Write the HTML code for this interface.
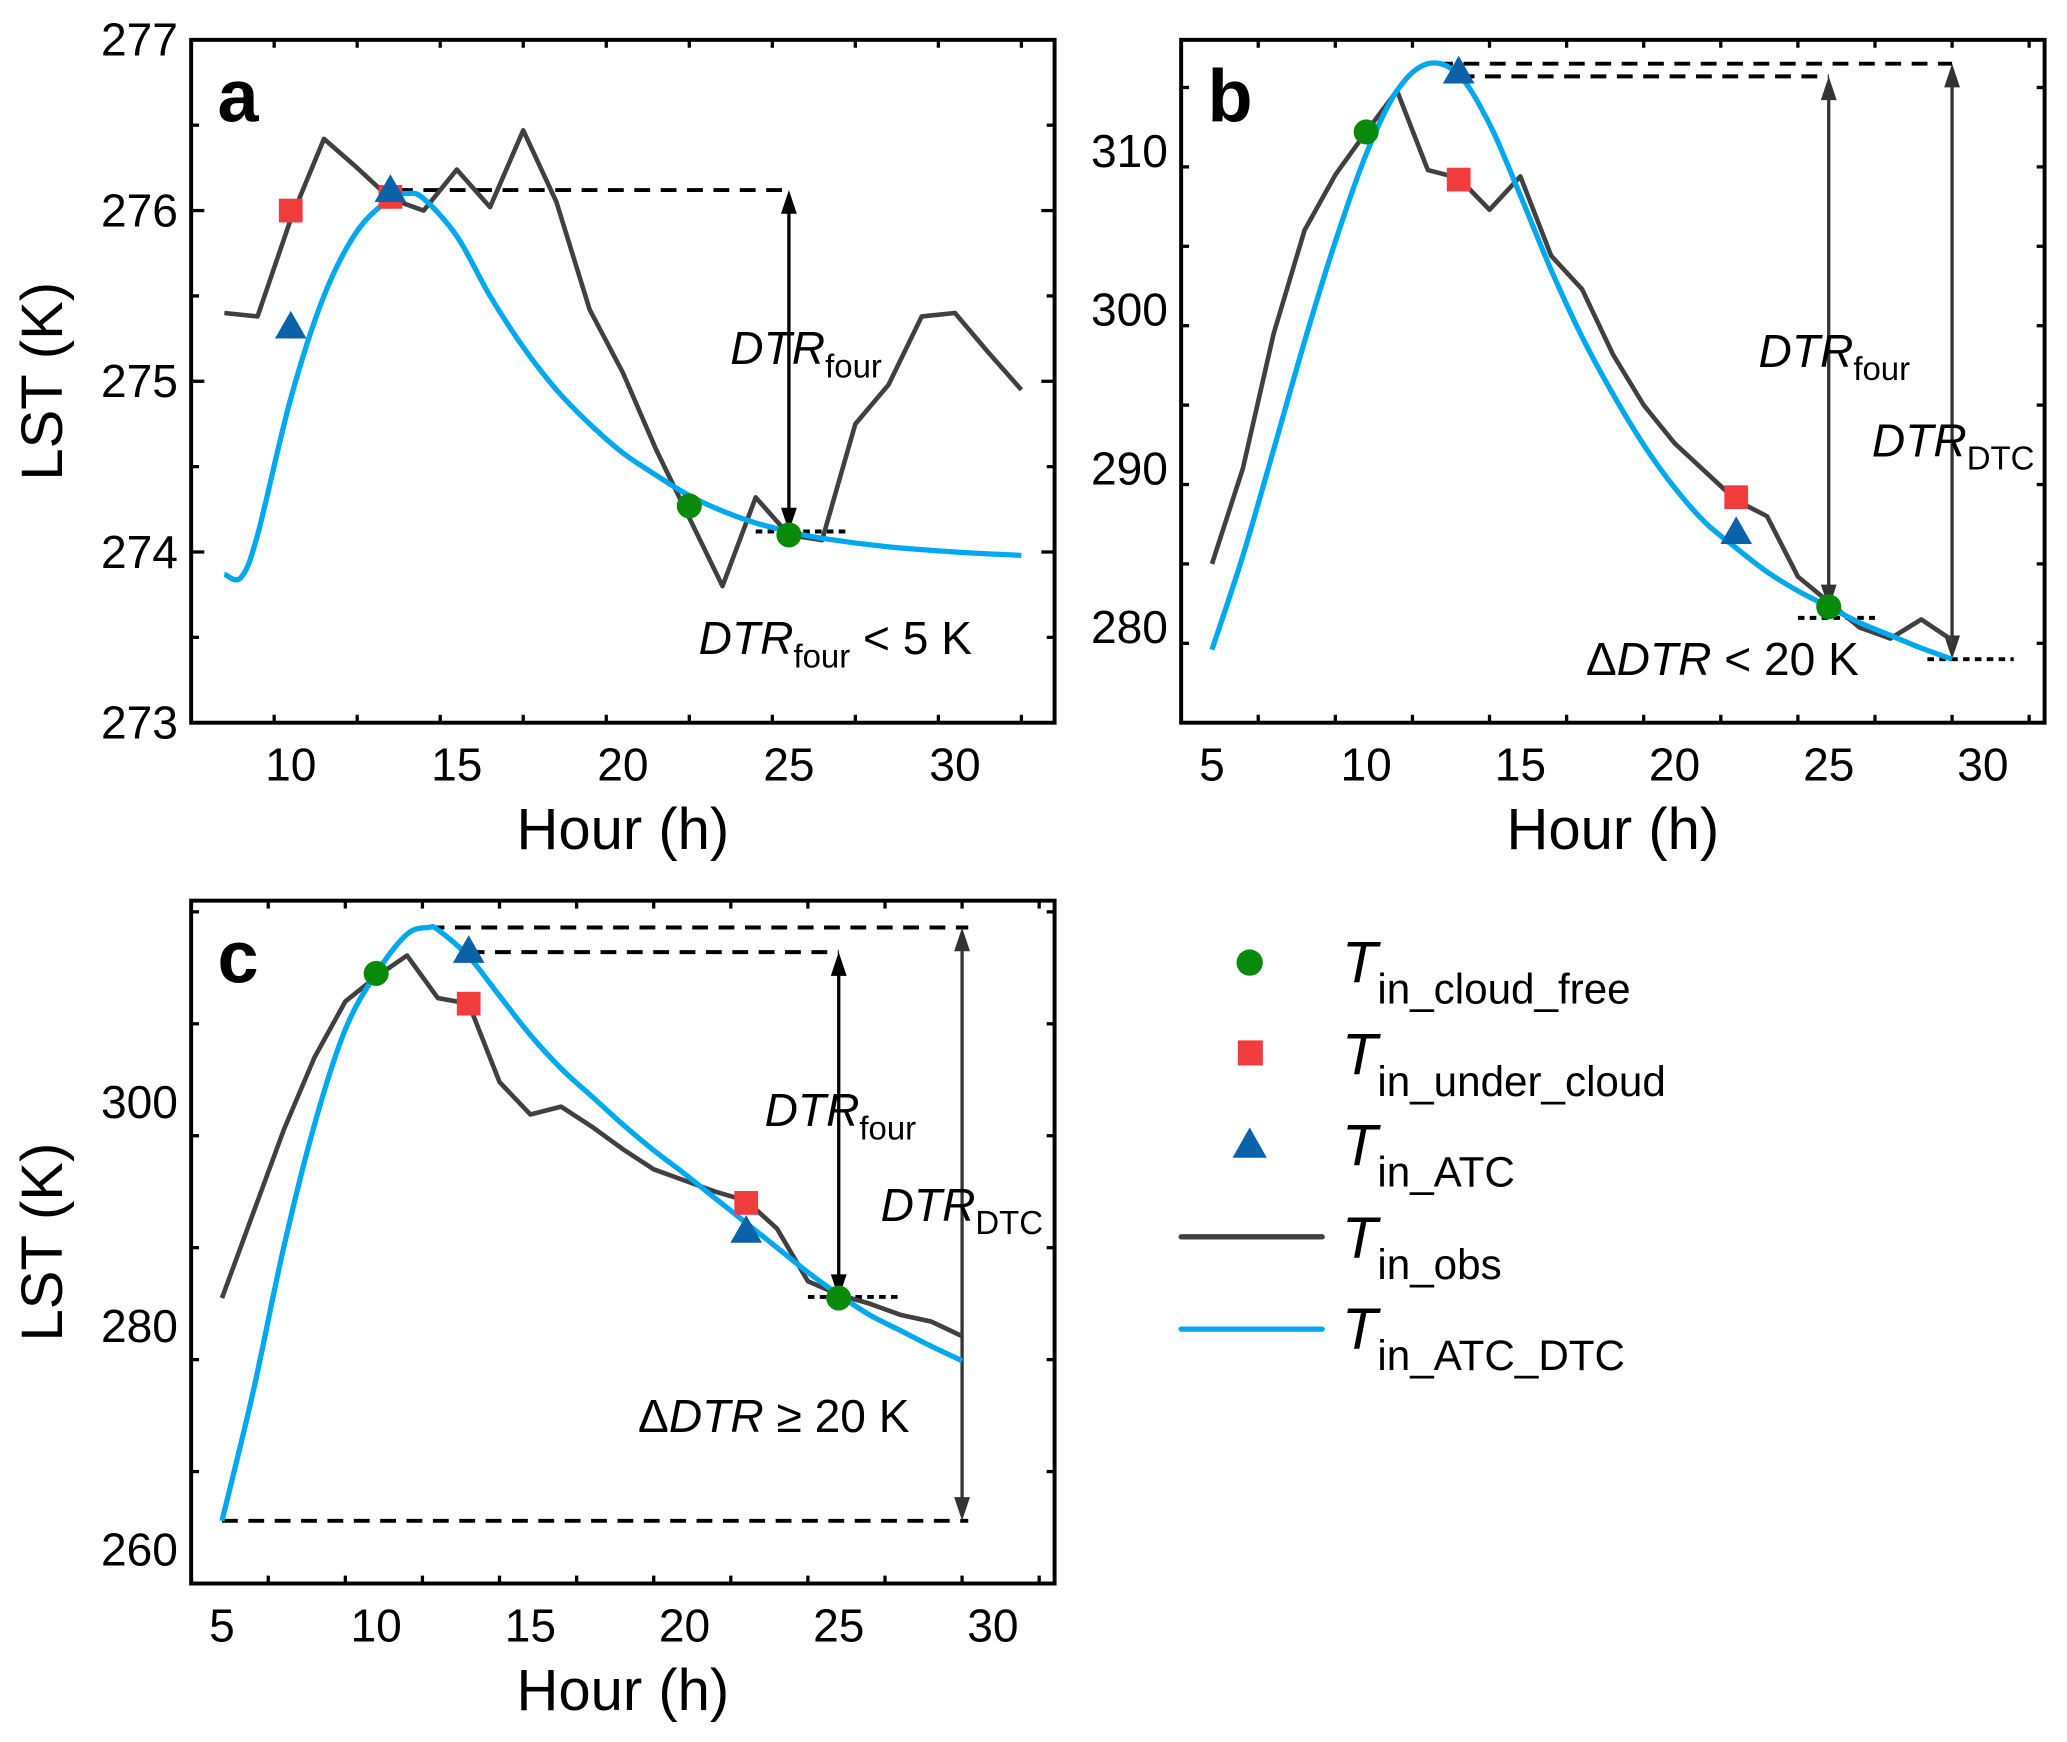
<!DOCTYPE html>
<html><head><meta charset="utf-8"><style>
html,body{margin:0;padding:0;background:#fff;}
svg{display:block;font-family:"Liberation Sans",Arial,sans-serif;}
</style></head><body>
<svg id="fig" width="2067" height="1742" viewBox="0 0 1568 1321" xmlns="http://www.w3.org/2000/svg">
<g id="legend">
 <circle cx="948" cy="730" r="10" fill="#0a8a0a"/>
 <rect x="939" y="789" width="19" height="19" fill="#f03c3c"/>
 <polygon points="948,855 961,878 935,878" fill="#0b62a8"/>
 <line x1="896" y1="938" x2="1003" y2="938" stroke="#404040" stroke-width="4" stroke-linecap="round"/>
 <line x1="896" y1="1008" x2="1003" y2="1008" stroke="#00a8f0" stroke-width="4" stroke-linecap="round"/>
 <text x="1018" y="745" font-size="44" font-style="italic">T<tspan font-style="normal" font-size="32" dy="16">in_cloud_free</tspan></text>
 <text x="1018" y="815" font-size="44" font-style="italic">T<tspan font-style="normal" font-size="32" dy="16">in_under_cloud</tspan></text>
 <text x="1018" y="884" font-size="44" font-style="italic">T<tspan font-style="normal" font-size="32" dy="16">in_ATC</tspan></text>
 <text x="1018" y="954" font-size="44" font-style="italic">T<tspan font-style="normal" font-size="32" dy="16">in_obs</tspan></text>
 <text x="1018" y="1023" font-size="44" font-style="italic">T<tspan font-style="normal" font-size="32" dy="16">in_ATC_DTC</tspan></text>
</g>
</svg>
<script>
// ---------- Panel a data ----------
const aObsHours=[8,9,10,11,12,13,14,15,16,17,18,19,20,21,22,23,24,25,26,27,28,29,30,31,32];
const aObsVals=[275.4,275.38,275.95,276.42,276.25,276.07,276.0,276.24,276.02,276.47,276.05,275.42,275.05,274.6,274.2,273.8,274.32,274.1,274.07,274.75,274.98,275.38,275.4,275.17,274.95];
const aFitHours=[8,8.5,9,10,11,12,13,13.5,14,15,16,17,18,19,20,21,22,23,24,25,26,28,30,32];
const aFitVals=[273.87,273.85,274.1,274.9,275.5,275.88,276.07,276.1,276.07,275.85,275.5,275.2,274.95,274.75,274.58,274.45,274.33,274.24,274.17,274.12,274.08,274.03,274.0,273.98];
const aGreenHours=[22,25], aGreenVals=[274.27,274.1];
const aRedHours=[10,13], aRedVals=[276.0,276.08];
const aTriHours=[10,13], aTriVals=[275.32,276.12];
const aXTicks=[10,15,20,25,30], aYTicks=[273,274,275,276,277];
// ---------- Panel b data ----------
const bObsHours=[5,6,7,8,9,10,11,12,13,14,15,16,17,18,19,20,21,22,23,24,25,26,27,28,29];
const bObsVals=[284,290,298.5,305,308.5,311.2,313.8,308.8,308.3,306.3,308.4,303.4,301.3,297.2,294,291.6,289.8,288,287,283.2,281.6,280,279.3,280.5,279.2];
const bFitHours=[5,6,7,8,9,10,11,12,13,14,15,16,17,18,19,20,21,22,23,24,25,26,27,28,29];
const bFitVals=[278.6,284.5,291.2,298,304.3,309.8,313.8,315.5,314.8,311.7,307.2,302.5,298.3,294.7,291.5,288.8,286.6,285,283.5,282.3,281.3,280.3,279.5,278.7,278];
const bGreenHours=[10,25], bGreenVals=[311.2,281.3];
const bRedHours=[13,22], bRedVals=[308.2,288.2];
const bTriHours=[13,22], bTriVals=[315,286];
const bXTicks=[5,10,15,20,25,30], bYTicks=[280,290,300,310];
// ---------- Panel c data ----------
const cObsHours=[5,6,7,8,9,10,11,12,13,14,15,16,17,18,19,20,21,22,23,24,25,26,27,28,29];
const cObsVals=[282.5,290,297.5,304,309,311.2,313.1,309.3,308.8,301.8,298.9,299.6,297.8,295.8,294,293,292,291.2,288.7,284,282.8,282,281,280.4,279.1];
const cFitHours=[5,6,7,8,9,10,11,11.7,12,13,14,15,16,17,18,19,20,21,22,23,24,25,26,27,28,29];
const cFitVals=[262.6,274,287,298,306.5,311.5,315,315.6,315.4,313,309.5,306,303,300.5,298,295.7,293.6,291.4,289.2,287,284.8,282.8,281,279.6,278.2,276.9];
const cGreenHours=[10,25], cGreenVals=[311.5,282.5];
const cRedHours=[13,22], cRedVals=[308.8,291];
const cTriHours=[13,22], cTriVals=[313.5,288.5];
const cXTicks=[5,10,15,20,25,30], cYTicks=[260,280,300];

const NS='http://www.w3.org/2000/svg';
const svg=document.getElementById('fig');
function mk(tag,attrs,parent){const e=document.createElementNS(NS,tag);for(const k in attrs)e.setAttribute(k,attrs[k]);(parent||svg).appendChild(e);return e;}
function smooth(pts){
  let d='M'+pts[0][0]+','+pts[0][1];
  for(let i=0;i<pts.length-1;i++){
    const p0=pts[i-1]||pts[i],p1=pts[i],p2=pts[i+1],p3=pts[i+2]||p2;
    const c1=[p1[0]+(p2[0]-p0[0])/6,p1[1]+(p2[1]-p0[1])/6];
    const c2=[p2[0]-(p3[0]-p1[0])/6,p2[1]-(p3[1]-p1[1])/6];
    d+=` C${c1[0]},${c1[1]} ${c2[0]},${c2[1]} ${p2[0]},${p2[1]}`;
  }
  return d;
}

function panel(cfg){
  const g=mk('g',{});
  
  
  const L=cfg.box[0],T=cfg.box[1],R=cfg.box[2],B=cfg.box[3];
  const sx=v=>L+(v-cfg.xr[0])/(cfg.xr[1]-cfg.xr[0])*(R-L);
  const sy=v=>B-(v-cfg.yr[0])/(cfg.yr[1]-cfg.yr[0])*(B-T);
  const tk=(x1,y1,x2,y2,nm)=>{const l=mk('line',{x1,y1,x2,y2,stroke:'#000','stroke-width':2.5},g);};
  for(let v=cfg.xr[0];v<=cfg.xr[1]+1e-9;v+=cfg.xminor){
    const major=cfg.xt.some(t=>Math.abs(t-v)<1e-9);const len=major?10:6;const x=sx(v);
    tk(x,B,x,B-len,'x-tick');tk(x,T,x,T+len,'x-tick-top');
  }
  for(let v=cfg.yr[0];v<=cfg.yr[1]+1e-9;v+=cfg.yminor){
    const major=cfg.yt.some(t=>Math.abs(t-v)<1e-9);const len=major?10:6;const y=sy(v);
    tk(L,y,L+len,y,'y-tick');tk(R,y,R-len,y,'y-tick-right');
  }
  cfg.xt.forEach(v=>{const t=mk('text',{x:sx(v),y:B+44,'font-size':35,'text-anchor':'middle'},g);t.textContent=v;
    
    });
  cfg.yt.forEach(v=>{const t=mk('text',{x:L-10,y:sy(v)+12,'font-size':35,'text-anchor':'end'},g);t.textContent=v;
    
    });
  const xt=mk('text',{x:(L+R)/2,y:B+96,'font-size':44,'text-anchor':'middle'},g);xt.textContent='Hour (h)';
  
  
  if(cfg.ylab){const yt=mk('text',{x:0,y:0,'font-size':44,'text-anchor':'middle',transform:`translate(47,${(T+B)/2}) rotate(-90)`},g);yt.textContent='LST (K)';
    
    }
  const lt=mk('text',{x:L+20,y:T+62,'font-size':56,'font-weight':'bold'},g);lt.textContent=cfg.id;
  
  
  cfg.dash.forEach(d=>{const l=mk('line',{x1:sx(d[0]),y1:sy(d[2]),x2:sx(d[1]),y2:sy(d[2]),stroke:'#000','stroke-width':3,'stroke-dasharray':d[3]},g);
    
    });
  cfg.arrows.forEach(a=>{const x=sx(a[0]),y1=sy(a[1]),y2=sy(a[2]);
    const l=mk('line',{x1:x,y1:y1+10,x2:x,y2:y2-10,stroke:a[4],'stroke-width':2.5},g);
    
    
    [[y1,1],[y2,-1]].forEach(p=>{const h=mk('polygon',{points:`${x},${p[0]} ${x-6},${p[0]+p[1]*18} ${x+6},${p[0]+p[1]*18}`,fill:a[4]},g);
      
      });
  });
  const line=(hs,vs,col,w,nm,sm)=>{const pts=hs.map((h,i)=>[sx(h),sy(vs[i])]);
    const p=sm?mk('path',{d:smooth(pts),fill:'none',stroke:col,'stroke-width':w},g):mk('polyline',{points:pts.map(q=>q.join(',')).join(' '),fill:'none',stroke:col,'stroke-width':w,'stroke-linejoin':'round'},g);
    
    };
  line(cfg.obs[0],cfg.obs[1],'#404040',3.5,'obs-line',false);
  line(cfg.fit[0],cfg.fit[1],'#00a8f0',4,'atc-dtc-line',true);
  cfg.green[0].forEach((h,i)=>{const c=mk('circle',{cx:sx(h),cy:sy(cfg.green[1][i]),r:9.5,fill:'#0a8a0a'},g);
    
    });
  cfg.red[0].forEach((h,i)=>{const x=sx(h),y=sy(cfg.red[1][i]);const r=mk('rect',{x:x-9,y:y-9,width:18,height:18,fill:'#f03c3c'},g);
    
    });
  cfg.tri[0].forEach((h,i)=>{const x=sx(h),y=sy(cfg.tri[1][i]);const p=mk('polygon',{points:`${x},${y-12} ${x+12},${y+9} ${x-12},${y+9}`,fill:'#0b62a8'},g);
    
    });
  cfg.texts.forEach(t=>{const e=mk('text',{x:t[0],y:t[1],'font-size':35},g);e.innerHTML=t[2];
    
    });
  const f=mk('rect',{x:L,y:T,width:R-L,height:B-T,fill:'none',stroke:'#000','stroke-width':3},g);
  
  
}
const four='<tspan font-style="italic">DTR</tspan><tspan font-size="25" dy="10">four</tspan>';
const dtc='<tspan font-style="italic">DTR</tspan><tspan font-size="25" dy="10">DTC</tspan>';
panel({id:'a',box:[145,30,800,548],xr:[7,33],yr:[273,277],xt:aXTicks,yt:aYTicks,xminor:2.5,yminor:0.5,ylab:true,
 obs:[aObsHours,aObsVals],fit:[aFitHours,aFitVals],green:[aGreenHours,aGreenVals],red:[aRedHours,aRedVals],tri:[aTriHours,aTriVals],
 dash:[[13.2,25,276.12,'12,8'],[24,26.8,274.12,'5,4']],arrows:[[25,276.12,274.12,true,'#000']],
 texts:[[554,276,four],[530,496,four+'<tspan dy="-10"> &lt; 5 K</tspan>']]});
panel({id:'b',box:[896,30,1551,548],xr:[4,32],yr:[274,317],xt:bXTicks,yt:bYTicks,xminor:2.5,yminor:5,ylab:false,
 obs:[bObsHours,bObsVals],fit:[bFitHours,bFitVals],green:[bGreenHours,bGreenVals],red:[bRedHours,bRedVals],tri:[bTriHours,bTriVals],
 dash:[[12.3,29,315.5,'12,8'],[13,25,314.7,'12,8'],[24,26.5,280.6,'5,4'],[28.2,31,278,'5,4']],arrows:[[25,314.7,281.2,true,'#333'],[29,315.5,278,true,'#333']],
 texts:[[1334,278,four],[1420,346,dtc],[1203,512,'Δ<tspan font-style="italic">DTR</tspan>  &lt; 20 K']]});
panel({id:'c',box:[145,683,800,1201],xr:[4,32],yr:[257,318],xt:cXTicks,yt:cYTicks,xminor:2.5,yminor:10,ylab:true,
 obs:[cObsHours,cObsVals],fit:[cFitHours,cFitVals],green:[cGreenHours,cGreenVals],red:[cRedHours,cRedVals],tri:[cTriHours,cTriVals],
 dash:[[11.7,29.2,315.6,'12,8'],[13,25,313.4,'12,8'],[5,29.2,262.6,'12,8'],[24,27,282.6,'5,4']],arrows:[[25,313.4,282.5,true,'#000'],[29,315.6,262.6,true,'#333']],
 texts:[[580,854,four],[668,926,dtc],[484,1086,'Δ<tspan font-style="italic">DTR</tspan>  ≥ 20 K']]});
</script>
</body></html>
